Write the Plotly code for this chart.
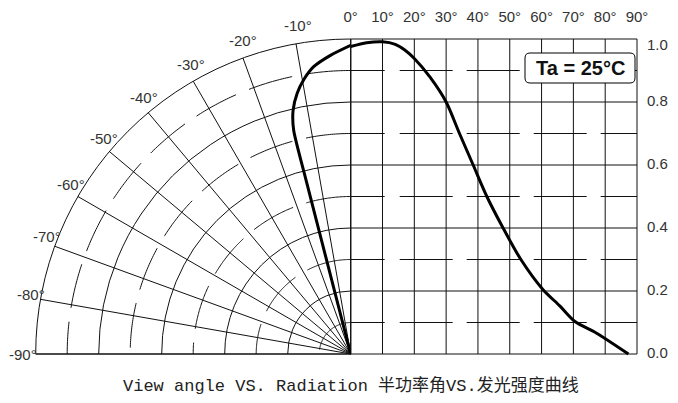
import numpy as np
import plotly.graph_objects as go

# ---------------- data ----------------
# left half (polar): view angle in degrees (negative = left side), relative radiation
polar_angle = [0, -3.8, -7.4, -9.8, -11.6, -13.3, -14.3, -14.4, -14.5]
polar_value = [0.98, 0.951, 0.919, 0.882, 0.845, 0.795, 0.733, 0.57, 0.0]

# right half (cartesian): view angle in degrees, relative radiation
cart_angle = [0, 5, 10, 14, 17, 20, 25, 30, 34.2, 38.5, 42.8, 47.9, 53.5, 60.4, 65.8, 70.5, 77.3, 87.3]
cart_value = [0.976, 0.988, 0.991, 0.983, 0.965, 0.938, 0.878, 0.80, 0.70, 0.60, 0.50, 0.40,
              0.30, 0.205, 0.152, 0.103, 0.066, 0.0]

right_angle_ticks = [0, 10, 20, 30, 40, 50, 60, 70, 80, 90]
right_angle_labels = ["0°", "10°", "20°", "30°", "40°", "50°", "60°", "70°", "80°", "90°"]
left_angle_ticks = [-90, -80, -70, -60, -50, -40, -30, -20, -10, 0]
left_angle_labels = ["-90°", "-80°", "-70°", "-60°", "-50°", "-40°", "-30°", "-20°", "-10°", ""]
value_ticks = [0.0, 0.2, 0.4, 0.6, 0.8, 1.0]
value_labels = ["0.0", "0.2", "0.4", "0.6", "0.8", "1.0"]
minor_values = [0.1, 0.3, 0.5, 0.7, 0.9]
condition_text = "Ta = 25°C"
caption_text = "View angle VS. Radiation 半功率角VS.发光强度曲线"

# ---------------- layout geometry (screen pixels) ----------------
OFF = 8                          # default page margin of the html body
W, H = 678 - OFF, 403 - OFF      # figure size so it fits in the window
PL, PT, PR, PB = 33, 35, 641, 358  # plot area edges on screen
ML, MT = PL - OFF, PT - OFF
MR, MB = W - (PR - OFF), H - (PB - OFF)
PW, PH = PR - PL, PB - PT
CX, CY = 350.7, 354.0           # origin on screen
RPX = 315.0                     # radius 1.0 in pixels
DEG_PX = (637.0 - CX) / 90.0    # pixels per degree on the right half
PAD = 4.0

def px_to_paper_x(px):
    return (px - PL) / PW

def py_to_paper_y(py):
    return (PB - py) / PH

LINE = "#111111"
TXT = "#333333"
FONT = "Liberation Sans, Arial, sans-serif"

fig = go.Figure()

# ---------------- right half grid ----------------
vx, vy = [], []
for a in right_angle_ticks:
    vx += [a, a, None]
    vy += [0, 1, None]
fig.add_trace(go.Scatter(x=vx, y=vy, mode="lines", line=dict(color=LINE, width=1),
                         hoverinfo="skip", showlegend=False))
hx, hy = [], []
for v in value_ticks:
    hx += [0, 90, None]
    hy += [v, v, None]
fig.add_trace(go.Scatter(x=hx, y=hy, mode="lines", line=dict(color=LINE, width=1),
                         hoverinfo="skip", showlegend=False))
dx_, dy_ = [], []
for v in minor_values:
    dx_ += [0, 90, None]
    dy_ += [v, v, None]
fig.add_trace(go.Scatter(x=dx_, y=dy_, mode="lines",
                         line=dict(color=LINE, width=1,
                                   dash="34px,15px,53px,14px,53px,14px,53px,14px,60px"),
                         hoverinfo="skip", showlegend=False))

# ---------------- polar dashed arcs ----------------
arc_theta = np.linspace(0, -90, 181)
for v in minor_values:
    fig.add_trace(go.Scatterpolar(r=[v] * len(arc_theta), theta=arc_theta, mode="lines",
                                  line=dict(color=LINE, width=1, dash="45px,14px"),
                                  hoverinfo="skip", showlegend=False))

# ---------------- curves ----------------
fig.add_trace(go.Scatterpolar(r=polar_value, theta=polar_angle, mode="lines",
                              line=dict(color="black", width=3, shape="spline", smoothing=0.6),
                              hoverinfo="skip", showlegend=False))
fig.add_trace(go.Scatter(x=cart_angle, y=cart_value, mode="lines",
                         line=dict(color="black", width=3, shape="spline", smoothing=0.8),
                         hoverinfo="skip", showlegend=False))

# ---------------- polar angle labels ----------------
LAB_R = 328.0
for a, t in zip(left_angle_ticks, left_angle_labels):
    if not t:
        continue
    rad = np.deg2rad(a)
    k = min(1.0, 4.0 * np.cos(rad))
    lx = CX + LAB_R * np.sin(rad) + 4.5 * k
    ly = CY - LAB_R * np.cos(rad) - 5.0 * min(1.0, 3.0 * np.cos(rad))
    fig.add_annotation(x=px_to_paper_x(lx), y=py_to_paper_y(ly), xref="paper", yref="paper",
                       text=t, showarrow=False, xanchor="center", yanchor="middle",
                       font=dict(family=FONT, size=15, color=TXT))

# ---------------- value labels (right side) ----------------
for v, t in zip(value_ticks, value_labels):
    fig.add_annotation(x=px_to_paper_x(645), y=v, xref="paper", yref="y",
                       text=t, showarrow=False, xanchor="left", yanchor="middle",
                       yshift=(-5 if v >= 1.0 else 1.5),
                       font=dict(family=FONT, size=15, color=TXT))

# ---------------- condition box ----------------
bx0, bx1 = (525 - CX) / DEG_PX, (635 - CX) / DEG_PX
by0, by1 = (CY - 83) / RPX, (CY - 53) / RPX
rx, ry = 5 / DEG_PX, 5 / RPX
path = (f"M {bx0+rx},{by1} L {bx1-rx},{by1} Q {bx1},{by1} {bx1},{by1-ry} "
        f"L {bx1},{by0+ry} Q {bx1},{by0} {bx1-rx},{by0} L {bx0+rx},{by0} "
        f"Q {bx0},{by0} {bx0},{by0+ry} L {bx0},{by1-ry} Q {bx0},{by1} {bx0+rx},{by1} Z")
fig.add_shape(type="path", path=path, xref="x", yref="y", fillcolor="white",
              line=dict(color="black", width=1), layer="above")
fig.add_annotation(x=(bx0 + bx1) / 2, y=(by0 + by1) / 2, xref="x", yref="y",
                   text=f"<b>{condition_text}</b>", showarrow=False,
                   font=dict(family=FONT, size=20, color="#111111"))

# ---------------- caption ----------------
fig.add_annotation(x=px_to_paper_x(350.5), y=py_to_paper_y(386), xref="paper", yref="paper",
                   text=caption_text, showarrow=False, xanchor="center", yanchor="middle",
                   font=dict(family="Liberation Mono, Noto Sans CJK SC, monospace", size=17,
                             color="#222222"))

axis_font = dict(family=FONT, size=15, color=TXT)
fig.update_layout(
    template="none",
    width=W, height=H, autosize=False,
    margin=dict(l=ML, r=MR, t=MT, b=MB, pad=0, autoexpand=False),
    paper_bgcolor="white", plot_bgcolor="rgba(0,0,0,0)",
    showlegend=False,
    xaxis=dict(domain=[px_to_paper_x(CX - PAD), 1.0],
               range=[-PAD / DEG_PX, 90 + PAD / DEG_PX], automargin=False,
               side="top", tickmode="array", tickvals=right_angle_ticks,
               ticktext=right_angle_labels, tickfont=axis_font,
               ticks="outside", ticklen=6, tickcolor="rgba(0,0,0,0)",
               showgrid=False, zeroline=False, showline=False, fixedrange=True),
    yaxis=dict(domain=[0, 1], range=[-PAD / RPX, 1 + PAD / RPX], side="right", anchor="x",
               automargin=False, showticklabels=False, ticks="",
               showgrid=False, zeroline=False, showline=False, fixedrange=True),
    polar=dict(
        domain=dict(x=[px_to_paper_x(CX - RPX), px_to_paper_x(CX)],
                    y=[py_to_paper_y(CY), py_to_paper_y(CY - RPX)]),
        sector=[90, 180],
        bgcolor="white",
        angularaxis=dict(rotation=90, direction="clockwise", tickmode="array",
                         tickvals=left_angle_ticks, ticktext=left_angle_labels,
                         showticklabels=False, ticks="", showgrid=True, gridcolor=LINE,
                         gridwidth=1, showline=True, linecolor=LINE, linewidth=1),
        radialaxis=dict(range=[0, 1], tickmode="array", tickvals=[0.2, 0.4, 0.6, 0.8],
                        showticklabels=False, ticks="", showline=False,
                        showgrid=True, gridcolor=LINE, gridwidth=1),
    ),
)

fig.write_html("out.html")
